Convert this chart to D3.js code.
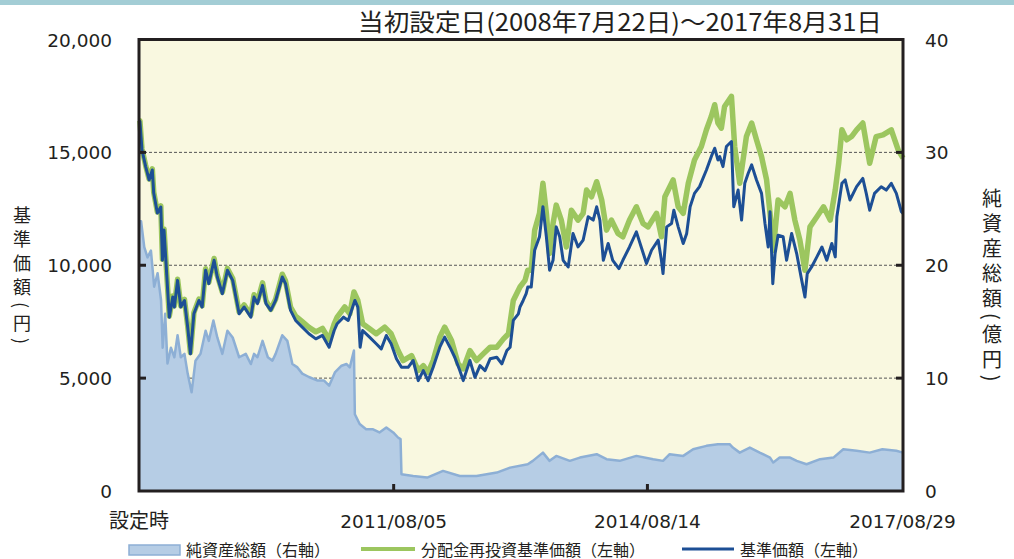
<!DOCTYPE html>
<html lang="ja">
<head>
<meta charset="UTF-8">
<title>基準価額・純資産総額の推移</title>
<script src="https://d3js.org/d3.v7.min.js"></script>
<style>
  html, body { margin: 0; padding: 0; background: #fff; }
  svg { display: block; }
  .tick-num { font-family: "DejaVu Sans", sans-serif; font-size: 18.5px; fill: #231f20; }
  .jp { font-family: "Noto Sans CJK JP", sans-serif; fill: #231f20; }
  .vtitle { writing-mode: vertical-rl; text-orientation: mixed; }
</style>
</head>
<body>
<div id="chart"></div>
<script>
// 基準価額（左軸, 円）
const navSeries = [
  ["2008-07-22",16400],["2008-07-26",16370],["2008-08-04",15110],["2008-08-20",14370],["2008-09-04",13780],
  ["2008-09-18",14220],["2008-09-24",13200],["2008-10-10",12310],["2008-10-25",12580],["2008-11-01",10220],
  ["2008-11-08",11560],["2008-11-23",9035],["2008-12-01",7700],["2008-12-16",8590],["2008-12-23",8150],
  ["2009-01-06",9330],["2009-01-20",8150],["2009-02-05",8440],["2009-02-19",7260],["2009-03-03",6075],
  ["2009-03-18",7850],["2009-04-09",8440],["2009-04-23",8150],["2009-05-08",9780],["2009-05-22",9185],
  ["2009-06-14",10220],["2009-06-28",9480],["2009-07-20",8740],["2009-08-11",9780],["2009-09-03",9330],
  ["2009-10-01",7850],["2009-10-23",8150],["2009-11-21",7700],["2009-12-05",8590],["2009-12-20",8300],
  ["2010-01-11",9110],["2010-01-26",8300],["2010-02-16",8000],["2010-03-09",8440],["2010-04-07",9480],
  ["2010-04-21",9185],["2010-05-13",8000],["2010-06-04",7555],["2010-07-03",7260],["2010-08-01",6965],
  ["2010-08-31",6740],["2010-09-29",6890],["2010-10-28",6370],["2010-11-19",7110],["2010-12-02",7410],
  ["2010-12-30",7700],["2011-01-19",7555],["2011-02-17",8440],["2011-03-02",8150],["2011-03-12",6370],
  ["2011-03-23",7110],["2011-04-22",6815],["2011-05-21",6520],["2011-06-12",6295],["2011-07-04",6890],
  ["2011-07-25",6520],["2011-08-17",5855],["2011-09-08",5480],["2011-10-07",5480],["2011-10-29",5780],
  ["2011-11-20",4890],["2011-12-12",5335],["2012-01-02",4890],["2012-01-24",5480],["2012-02-22",6370],
  ["2012-03-14",6815],["2012-04-06",6370],["2012-04-27",5925],["2012-05-19",5335],["2012-06-03",4890],
  ["2012-07-02",5780],["2012-07-24",5035],["2012-08-15",5555],["2012-09-06",5335],["2012-09-28",5855],
  ["2012-10-27",5925],["2012-11-18",5630],["2012-12-10",6220],["2012-12-24",6370],["2013-01-07",7555],
  ["2013-01-29",7850],["2013-02-05",8150],["2013-02-19",8440],["2013-03-04",8740],["2013-03-11",9035],
  ["2013-03-26",9035],["2013-04-10",10665],["2013-05-01",11260],["2013-05-16",12590],["2013-05-31",11260],
  ["2013-06-14",9780],["2013-06-29",10220],["2013-07-13",11700],["2013-07-28",11260],["2013-08-12",10220],
  ["2013-09-03",9925],["2013-09-24",11410],["2013-10-16",10810],["2013-11-07",11110],["2013-11-29",12150],
  ["2013-12-21",12000],["2014-01-05",12590],["2014-01-19",12000],["2014-02-03",10220],["2014-02-24",10965],
  ["2014-03-16",10220],["2014-04-12",9850],["2014-04-29",10220],["2014-05-28",10810],["2014-06-27",11480],
  ["2014-07-18",10810],["2014-08-10",10075],["2014-09-01",10665],["2014-09-30",11110],["2014-10-14",10220],
  ["2014-10-21",9630],["2014-11-06",11700],["2014-11-27",11850],["2014-12-07",12440],["2014-12-26",11700],
  ["2015-01-17",10965],["2015-02-01",11410],["2015-02-16",12590],["2015-03-07",13185],["2015-03-29",13480],
  ["2015-04-28",14220],["2015-05-19",14810],["2015-06-03",15185],["2015-06-17",14665],["2015-06-25",14810],
  ["2015-07-09",14370],["2015-07-24",15260],["2015-08-15",15480],["2015-08-25",12590],["2015-09-13",13330],
  ["2015-09-28",12000],["2015-10-12",13630],["2015-10-27",14075],["2015-11-11",14445],["2015-12-02",13780],
  ["2015-12-24",13185],["2016-01-08",11850],["2016-01-22",10810],["2016-01-30",12370],["2016-02-11",9185],
  ["2016-02-21",10520],["2016-03-05",11330],["2016-03-27",11260],["2016-04-11",10220],["2016-05-03",11410],
  ["2016-05-25",10520],["2016-06-16",9330],["2016-06-30",8590],["2016-07-10",9630],["2016-07-29",9925],
  ["2016-08-21",10370],["2016-09-12",10810],["2016-10-03",10220],["2016-10-25",10965],["2016-11-09",10370],
  ["2016-11-16",12150],["2016-12-08",13630],["2016-12-22",13780],["2017-01-12",12890],["2017-02-10",13480],
  ["2017-03-09",13850],["2017-03-24",13185],["2017-04-08",12440],["2017-04-29",13185],["2017-05-28",13480],
  ["2017-06-19",13330],["2017-07-11",13630],["2017-08-02",13185],["2017-08-24",12370],["2017-08-31",12300]
];

// 分配金再投資基準価額（左軸, 円）
const reinvSeries = [
  ["2008-07-22",16400],["2008-07-26",16400],["2008-08-04",15150],["2008-08-20",14420],["2008-09-04",13820],
  ["2008-09-18",14270],["2008-09-24",13250],["2008-10-10",12360],["2008-10-25",12630],["2008-11-01",10270],
  ["2008-11-08",11610],["2008-11-23",9080],["2008-12-01",7750],["2008-12-16",8640],["2008-12-23",8200],
  ["2009-01-06",9380],["2009-01-20",8200],["2009-02-05",8490],["2009-02-19",7310],["2009-03-03",6130],
  ["2009-03-18",7900],["2009-04-09",8500],["2009-04-23",8200],["2009-05-08",9840],["2009-05-22",9240],
  ["2009-06-14",10300],["2009-06-28",9550],["2009-07-20",8810],["2009-08-11",9860],["2009-09-03",9410],
  ["2009-10-01",7930],["2009-10-23",8240],["2009-11-21",7800],["2009-12-05",8690],["2009-12-20",8400],
  ["2010-01-11",9220],["2010-01-26",8420],["2010-02-16",8050],["2010-03-09",8500],["2010-04-07",9600],
  ["2010-04-21",9300],["2010-05-13",8150],["2010-06-04",7750],["2010-07-03",7500],["2010-08-01",7250],
  ["2010-08-31",7050],["2010-09-29",7200],["2010-10-28",6700],["2010-11-19",7400],["2010-12-02",7700],
  ["2011-01-04",8150],["2011-01-26",7850],["2011-02-13",8815],["2011-03-02",8440],["2011-03-23",7410],
  ["2011-04-22",7185],["2011-05-21",6965],["2011-06-27",7260],["2011-07-25",6965],["2011-08-24",6220],
  ["2011-09-15",5780],["2011-10-22",6000],["2011-11-20",5335],["2011-12-12",5555],["2012-01-02",5260],
  ["2012-01-24",5780],["2012-02-22",6815],["2012-03-14",7260],["2012-04-13",6665],["2012-05-12",5630],
  ["2012-06-03",5410],["2012-07-02",6220],["2012-07-31",5780],["2012-08-29",6075],["2012-09-28",6370],
  ["2012-10-27",6370],["2012-11-25",6740],["2012-12-17",6965],["2013-01-07",8440],["2013-02-05",9035],
  ["2013-02-27",9330],["2013-03-11",9780],["2013-03-26",9780],["2013-04-10",11555],["2013-05-01",12300],
  ["2013-05-16",13630],["2013-05-31",12300],["2013-06-14",10520],["2013-06-29",11850],["2013-07-13",12665],
  ["2013-08-04",12000],["2013-08-26",10810],["2013-09-17",12440],["2013-10-16",12000],["2013-11-07",12300],
  ["2013-11-22",13330],["2013-12-14",13035],["2014-01-05",13700],["2014-01-27",12890],["2014-02-17",11555],
  ["2014-03-10",12000],["2014-04-08",11410],["2014-04-29",11260],["2014-05-28",12000],["2014-06-27",12590],
  ["2014-07-26",11850],["2014-08-17",11700],["2014-09-23",12300],["2014-10-14",11260],["2014-10-29",13035],
  ["2014-12-04",13780],["2014-12-26",12590],["2015-01-17",12300],["2015-02-08",13630],["2015-03-07",14665],
  ["2015-04-06",15260],["2015-04-28",16000],["2015-05-19",16590],["2015-06-03",17110],["2015-06-17",16300],
  ["2015-07-02",16075],["2015-07-16",17035],["2015-08-15",17480],["2015-08-29",15260],["2015-09-20",13630],
  ["2015-10-19",15700],["2015-11-11",16300],["2015-12-02",15555],["2015-12-24",14810],["2016-01-15",13780],
  ["2016-01-30",12300],["2016-02-13",10665],["2016-03-05",12890],["2016-04-04",12590],["2016-04-26",13185],
  ["2016-05-17",12000],["2016-06-08",11110],["2016-06-30",9780],["2016-07-22",11700],["2016-08-21",12150],
  ["2016-09-19",12590],["2016-10-18",12000],["2016-11-09",13330],["2016-11-24",14520],["2016-12-08",16000],
  ["2016-12-29",15555],["2017-01-19",15700],["2017-02-10",16000],["2017-03-09",16300],["2017-04-08",14520],
  ["2017-05-06",15700],["2017-06-05",15775],["2017-07-11",16000],["2017-08-10",15110],["2017-08-31",14740]
];

// 純資産総額（右軸, 億円）
const assetSeries = [
  ["2008-07-22",23.9],["2008-07-31",23.9],["2008-08-14",21.6],["2008-08-28",20.7],["2008-09-12",21.3],
  ["2008-09-26",18.1],["2008-10-11",19.3],["2008-10-26",16.9],["2008-11-02",12.7],["2008-11-13",15.7],
  ["2008-11-23",11.3],["2008-12-08",12.7],["2008-12-23",11.85],["2009-01-06",13.8],["2009-01-20",11.85],
  ["2009-02-05",12.15],["2009-02-19",10.4],["2009-03-08",8.74],["2009-03-25",11.55],["2009-04-16",12.15],
  ["2009-05-08",14.2],["2009-05-22",13.3],["2009-06-11",15.1],["2009-06-28",13.6],["2009-07-20",12.15],
  ["2009-08-11",14.2],["2009-09-03",13.6],["2009-10-01",11.85],["2009-10-30",12.15],["2009-11-21",11.25],
  ["2009-12-05",12.15],["2009-12-20",11.85],["2010-01-11",13.3],["2010-02-03",11.85],["2010-02-23",11.55],
  ["2010-03-09",12.15],["2010-04-07",13.8],["2010-04-29",13.3],["2010-05-21",11.25],["2010-06-12",10.95],
  ["2010-07-03",10.4],["2010-08-01",10.1],["2010-09-08",9.78],["2010-10-06",9.78],["2010-10-28",9.33],
  ["2010-11-22",10.5],["2010-12-21",11.1],["2011-01-12",11.25],["2011-01-26",10.95],["2011-02-13",12.45],
  ["2011-02-17",6.8],["2011-03-10",5.93],["2011-04-07",5.48],["2011-05-05",5.48],["2011-06-04",5.19],
  ["2011-07-04",5.63],["2011-08-03",5.19],["2011-08-24",4.74],["2011-09-04",4.6],["2011-09-08",1.48],
  ["2011-10-29",1.33],["2011-12-29",1.19],["2012-03-07",1.78],["2012-05-19",1.33],["2012-07-31",1.33],
  ["2012-10-27",1.63],["2012-12-24",2.07],["2013-03-11",2.37],["2013-04-02",2.67],["2013-05-16",3.4],
  ["2013-06-14",2.67],["2013-07-13",3.11],["2013-09-10",2.67],["2013-10-24",2.96],["2014-01-05",3.26],
  ["2014-02-17",2.82],["2014-04-15",2.67],["2014-06-27",3.11],["2014-09-08",2.82],["2014-10-21",2.67],
  ["2014-11-19",3.26],["2015-01-17",3.11],["2015-03-01",3.7],["2015-04-28",4.0],["2015-06-17",4.15],
  ["2015-08-07",4.15],["2015-08-21",3.85],["2015-09-20",3.4],["2015-11-03",3.85],["2015-12-16",3.4],
  ["2016-01-30",2.96],["2016-02-13",2.52],["2016-03-12",2.96],["2016-04-26",2.96],["2016-05-25",2.67],
  ["2016-07-07",2.37],["2016-09-04",2.82],["2016-11-01",2.96],["2016-12-14",3.7],["2017-02-10",3.56],
  ["2017-04-08",3.4],["2017-06-02",3.7],["2017-08-02",3.56],["2017-08-31",3.4]
];

const xTickDates = ["2008-07-22", "2011-08-05", "2014-08-14", "2017-08-29"];
const xTickLabels = ["設定時", "2011/08/05", "2014/08/14", "2017/08/29"];
const leftTicks = [0, 5000, 10000, 15000, 20000];
const rightTicks = [0, 10, 20, 30, 40];
const gridTicks = [5000, 10000, 15000];

const titleText = "当初設定日(2008年7月22日)～2017年8月31日";
const leftTitle = "基準価額(円)";
const rightTitle = "純資産総額(億円)";
const legendLabels = ["純資産総額（右軸）", "分配金再投資基準価額（左軸）", "基準価額（左軸）"];

const W = 1014, H = 559;
const parse = d3.timeParse("%Y-%m-%d");
const toPts = s => s.map(([d, v]) => ({ date: parse(d), value: v }));
const nav = toPts(navSeries), reinv = toPts(reinvSeries), asset = toPts(assetSeries);

const x = d3.scaleTime()
  .domain([parse("2008-07-22"), parse("2017-08-31")])
  .range([139, 903]);
const y = d3.scaleLinear().domain([0, 20000]).range([491, 39.5]);
const yR = d3.scaleLinear().domain([0, 40]).range([491, 39.5]);

const svg = d3.select("#chart").append("svg")
  .attr("width", W).attr("height", H);

// top band
svg.append("rect").attr("x", 0).attr("y", 0).attr("width", W).attr("height", 5)
  .attr("fill", "#a3cdd5");

// title
svg.append("text").attr("class", "jp")
  .attr("x", 620).attr("y", 31)
  .attr("text-anchor", "middle")
  .attr("font-size", 24)
  .attr("textLength", 524).attr("lengthAdjust", "spacingAndGlyphs")
  .text(titleText);

// plot background
svg.append("rect")
  .attr("x", x.range()[0]).attr("y", y(20000))
  .attr("width", x.range()[1] - x.range()[0]).attr("height", y(0) - y(20000))
  .attr("fill", "#f9f8e0");

// grid lines
svg.append("g").selectAll("line").data(gridTicks).join("line")
  .attr("x1", x.range()[0]).attr("x2", x.range()[1])
  .attr("y1", d => y(d)).attr("y2", d => y(d))
  .attr("stroke", "#555").attr("stroke-width", 1).attr("stroke-dasharray", "3,2");

// net assets area
const area = d3.area().x(d => x(d.date)).y0(yR(0)).y1(d => yR(d.value));
svg.append("path").datum(asset)
  .attr("d", area).attr("fill", "#b6cde5");
svg.append("path").datum(asset)
  .attr("d", d3.line().x(d => x(d.date)).y(d => yR(d.value)))
  .attr("fill", "none").attr("stroke", "#8dafd5").attr("stroke-width", 2.5)
  .attr("stroke-linejoin", "round");

const line = d3.line().x(d => x(d.date)).y(d => y(d.value));
svg.append("path").datum(reinv)
  .attr("d", line).attr("fill", "none")
  .attr("stroke", "#9cc65f").attr("stroke-width", 5.5).attr("stroke-linejoin", "round");
svg.append("path").datum(nav)
  .attr("d", line).attr("fill", "none")
  .attr("stroke", "#1d4f95").attr("stroke-width", 3).attr("stroke-linejoin", "round");

// frame
svg.append("rect")
  .attr("x", x.range()[0]).attr("y", y(20000))
  .attr("width", x.range()[1] - x.range()[0]).attr("height", y(0) - y(20000))
  .attr("fill", "none").attr("stroke", "#231f20").attr("stroke-width", 3);

// inward ticks
svg.append("g").selectAll("line").data(gridTicks).join("line")
  .attr("x1", x.range()[0]).attr("x2", x.range()[0] + 7)
  .attr("y1", d => y(d)).attr("y2", d => y(d))
  .attr("stroke", "#231f20").attr("stroke-width", 3);
svg.append("g").selectAll("line").data(gridTicks).join("line")
  .attr("x1", x.range()[1] - 7).attr("x2", x.range()[1])
  .attr("y1", d => y(d)).attr("y2", d => y(d))
  .attr("stroke", "#231f20").attr("stroke-width", 3);
svg.append("g").selectAll("line").data(xTickDates.slice(1, 3)).join("line")
  .attr("x1", d => x(parse(d))).attr("x2", d => x(parse(d)))
  .attr("y1", y(0)).attr("y2", y(0) - 7)
  .attr("stroke", "#231f20").attr("stroke-width", 3);

// left axis labels
const fmt = d3.format(",");
svg.append("g").selectAll("text").data(leftTicks).join("text")
  .attr("class", "tick-num")
  .attr("x", 112).attr("y", d => y(d) + 7)
  .attr("text-anchor", "end")
  .text(d => fmt(d));

// right axis labels
svg.append("g").selectAll("text").data(rightTicks).join("text")
  .attr("class", "tick-num")
  .attr("x", 925).attr("y", d => yR(d) + 7)
  .text(d => d);

// x labels
svg.append("g").selectAll("text").data(xTickDates).join("text")
  .attr("x", d => x(parse(d))).attr("y", 528)
  .attr("text-anchor", "middle")
  .attr("class", (d, i) => i === 0 ? "jp" : "tick-num")
  .attr("font-size", (d, i) => i === 0 ? 20 : null)
  .text((d, i) => xTickLabels[i]);

// vertical axis titles
svg.append("text").attr("class", "jp vtitle")
  .attr("x", 22).attr("y", 206)
  .attr("font-size", 18).attr("letter-spacing", 6)
  .text(leftTitle);
svg.append("text").attr("class", "jp vtitle")
  .attr("x", 992).attr("y", 188)
  .attr("font-size", 20).attr("letter-spacing", 5)
  .text(rightTitle);

// legend
const legend = svg.append("g").attr("class", "legend");
legend.append("rect").attr("x", 129).attr("y", 545).attr("width", 51).attr("height", 10)
  .attr("fill", "#b6cde5").attr("stroke", "#8dafd5").attr("stroke-width", 1.5);
legend.append("line").attr("x1", 361).attr("x2", 415).attr("y1", 549).attr("y2", 549)
  .attr("stroke", "#9cc65f").attr("stroke-width", 4);
legend.append("line").attr("x1", 682).attr("x2", 734).attr("y1", 549).attr("y2", 549)
  .attr("stroke", "#1d4f95").attr("stroke-width", 3);
[186, 421, 740].forEach((lx, i) => {
  legend.append("text").attr("class", "jp")
    .attr("x", lx).attr("y", 555.5)
    .attr("font-size", 16)
    .text(legendLabels[i]);
});
</script>
</body>
</html>
